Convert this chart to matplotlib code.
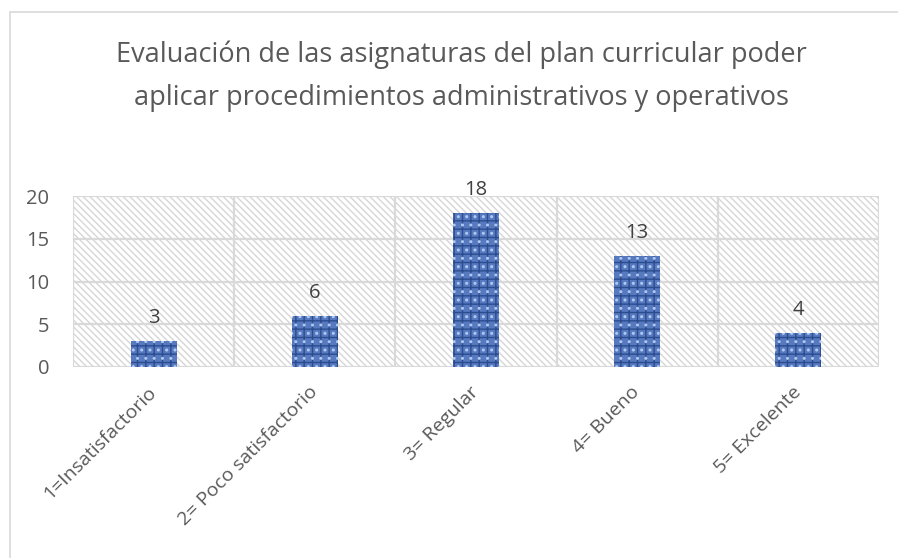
import matplotlib
matplotlib.use("Agg")
import matplotlib.pyplot as plt
from matplotlib.patches import Rectangle
import numpy as np

categories = ["1=Insatisfactorio", "2= Poco satisfactorio", "3= Regular", "4= Bueno", "5= Excelente"]
values = [3, 6, 18, 13, 4]
yticks = [0, 5, 10, 15, 20]
title = "Evaluación de las asignaturas del plan curricular poder\naplicar procedimientos administrativos y operativos"

plt.rcParams['font.family'] = ['Open Sans', 'DejaVu Sans']
plt.rcParams['hatch.linewidth'] = 1.0

W, H = 898, 558
fig = plt.figure(figsize=(W / 100, H / 100), dpi=100)
fig.patch.set_facecolor('white')

# outer chart border
fig.add_artist(Rectangle((10 / W, -0.1), 1.2, 1 - 12 / H + 0.1, transform=fig.transFigure,
                         facecolor='none', edgecolor='#d9d9d9', linewidth=1.2))

ax = fig.add_axes([73 / W, 1 - 367 / H, (879 - 73) / W, (367 - 196) / H])
n = len(categories)
ax.set_xlim(0, n)
ax.set_ylim(0, 20)

# hatched plot-area background
ax.add_patch(Rectangle((0, 0), 1, 1, transform=ax.transAxes, facecolor='white',
                       edgecolor='#d6d6d6', hatch='\\\\\\\\\\', linewidth=0, zorder=0))

for y in yticks:
    ax.axhline(y, color='#d9d9d9', linewidth=1.6, zorder=1)
for x in range(n + 1):
    ax.axvline(x, color='#d9d9d9', linewidth=1.6, zorder=1)

x = np.arange(n) + 0.5
bw = 0.285
ax.bar(x, values, width=bw, color='#5679c0', edgecolor='none', zorder=2)
ax.bar(x, values, width=bw, color='none', edgecolor='#2c4c8e', hatch='++', linewidth=0, zorder=3)
ax.bar(x, values, width=bw, color='none', edgecolor='#b0c8f0', hatch='..', linewidth=0, zorder=3)

for xi, v in zip(x, values):
    ax.annotate(str(v), (xi, v), xytext=(0, 13), textcoords='offset points',
                ha='center', va='baseline', fontsize=14.5, color='#404040')

for s in ax.spines.values():
    s.set_visible(False)

ax.set_yticks(yticks)
ax.set_yticklabels([str(t) for t in yticks], fontsize=14.5, color='#595959')
ax.set_xticks(x)
ax.set_xticklabels(categories, fontsize=14, color='#595959', rotation=45,
                   ha='right', va='center', rotation_mode='anchor')
ax.tick_params(axis='y', length=0, pad=17)
ax.tick_params(axis='x', length=0, pad=16)

fig.text(461.5 / W, 1 - 76 / H, title, ha='center', va='center', fontsize=19.5,
         color='#595959', linespacing=1.72)

fig.savefig('out.png', dpi=100)
